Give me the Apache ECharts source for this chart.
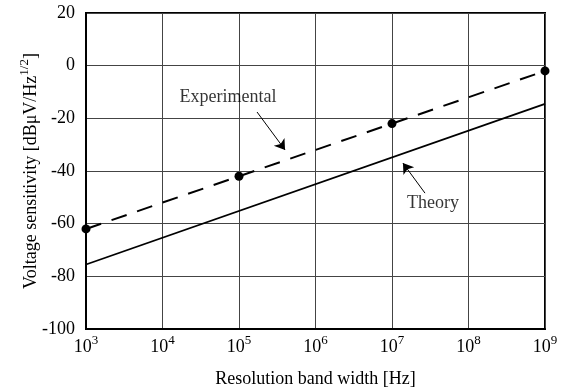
<!DOCTYPE html>
<html>
<head>
<meta charset="utf-8">
<script src="https://cdn.jsdelivr.net/npm/echarts@6/dist/echarts.min.js"></script>
<style>
  html, body { margin: 0; padding: 0; background: #fff; }
  #chart { width: 563px; height: 388px; }
</style>
</head>
<body>
<div id="chart"></div>
<script>
// bandwidth [Hz] and sensitivity [dBuV/Hz^1/2]
const expBandwidth = [1e3, 1e5, 1e7, 1e9]
const expSensitivity = [-62, -42, -22, -2]
const theoryBandwidth = [1e3, 1e9]
const theorySensitivity = [-75.5, -14.5]
const yTicks = [-100, -80, -60, -40, -20, 0, 20]

// annotation anchors in data space
const expLabelPos = [7.2e4, -12]
const expArrow = [[1.72e5, -17.6], [4.0e5, -32]]
const theoryLabelPos = [3.44e7, -52.2]
const theoryArrow = [[2.7e7, -48.4], [1.39e7, -37]]

const font = 'Liberation Serif, Times New Roman, serif'
const chart = echarts.init(document.getElementById('chart'), null, { renderer: 'canvas' })

const zip = (xs, ys) => xs.map((x, i) => [x, ys[i]])

// base text + raised superscript
const richSup = {
  b: { fontFamily: font, fontSize: 18, color: '#000', verticalAlign: 'bottom' },
  s: { fontFamily: font, fontSize: 13, color: '#000', verticalAlign: 'top', padding: [0, 0, 9, 0] }
}

const option = {
  animation: false,
  backgroundColor: '#fff',
  grid: {
    left: 86, right: 18, top: 13, bottom: 59,
    outerBoundsMode: 'none',
    show: true, borderColor: '#000', borderWidth: 2
  },
  xAxis: {
    type: 'log',
    logBase: 10,
    min: 1e3,
    max: 1e9,
    interval: 1,
    name: 'Resolution band width [Hz]',
    nameLocation: 'middle',
    nameGap: 41,
    nameMoveOverlap: false,
    nameTextStyle: { fontFamily: font, fontSize: 18, color: '#000' },
    axisLine: { show: true, onZero: false, lineStyle: { color: '#000', width: 2 } },
    axisTick: { show: false },
    splitLine: { show: true, lineStyle: { color: '#444', width: 1 } },
    minorTick: { show: false },
    axisLabel: {
      margin: 5,
      formatter: v => '{b|10}{s|' + Math.round(Math.log10(v)) + '}',
      rich: richSup
    }
  },
  yAxis: {
    type: 'value',
    min: yTicks[0],
    max: yTicks[yTicks.length - 1],
    interval: 20,
    name: '{b|Voltage sensitivity [dBμV/Hz}{s|1/2}{b|]}',
    nameLocation: 'middle',
    nameGap: 46,
    nameMoveOverlap: false,
    nameTextStyle: {
      fontFamily: font, fontSize: 18, color: '#000',
      rich: richSup
    },
    axisLine: { show: true, onZero: false, lineStyle: { color: '#000', width: 2 } },
    axisTick: { show: false },
    splitLine: { show: true, lineStyle: { color: '#444', width: 1 } },
    axisLabel: { fontFamily: font, fontSize: 18, color: '#000', margin: 11 }
  },
  series: [
    {
      name: 'Theory',
      type: 'line',
      data: zip(theoryBandwidth, theorySensitivity),
      showSymbol: false,
      lineStyle: { color: '#000', width: 1.8 },
      silent: true
    },
    {
      name: 'Experimental',
      type: 'line',
      data: zip(expBandwidth, expSensitivity),
      symbol: 'circle',
      symbolSize: 9,
      itemStyle: { color: '#000' },
      lineStyle: { color: '#000', width: 2, type: [16, 11] },
      silent: true
    },
    {
      // arrows
      type: 'lines',
      coordinateSystem: 'cartesian2d',
      symbol: ['none', 'arrow'],
      symbolSize: 10,
      lineStyle: { color: '#000', width: 1, opacity: 1 },
      data: [{ coords: expArrow }, { coords: theoryArrow }],
      silent: true
    },
    {
      // text labels
      type: 'scatter',
      symbolSize: 0,
      data: [
        { value: expLabelPos, name: 'Experimental' },
        { value: theoryLabelPos, name: 'Theory' }
      ],
      label: {
        show: true,
        position: 'inside',
        formatter: p => p.name,
        fontFamily: font,
        fontSize: 18,
        color: '#000'
      },
      silent: true
    }
  ]
}

chart.setOption(option)
</script>
</body>
</html>
